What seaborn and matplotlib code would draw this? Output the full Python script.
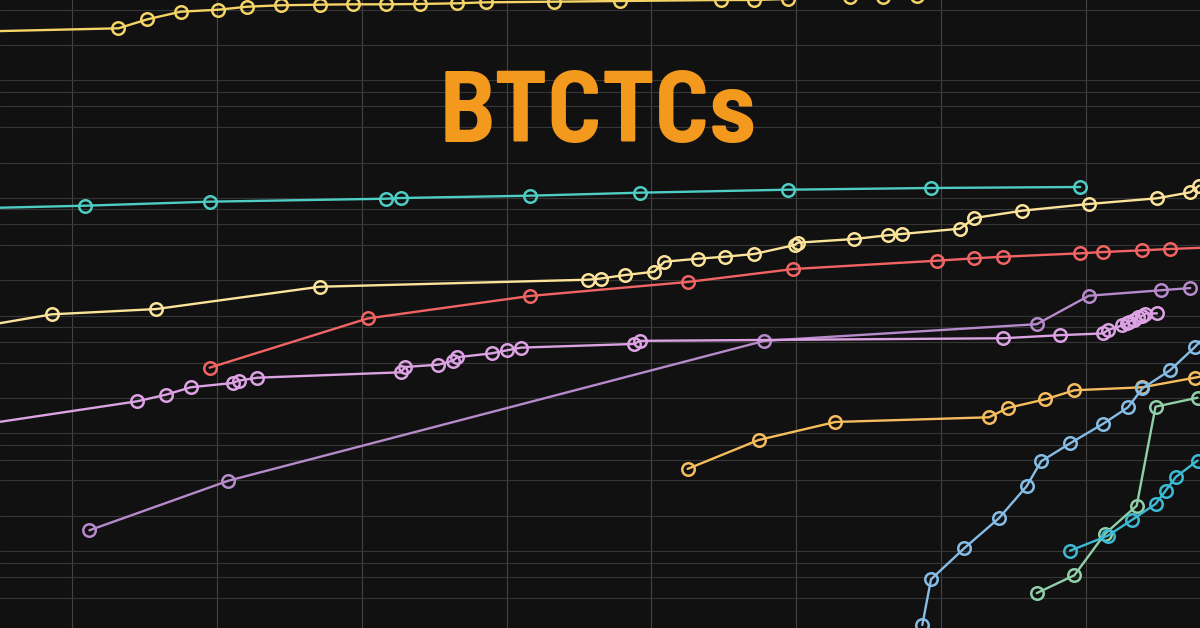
import numpy as np
import pandas as pd
import seaborn as sns
import matplotlib.pyplot as plt

# holdings over time (decimal year, BTC)
gold_x = [2017.30, 2018.32, 2018.52, 2018.75, 2019.01, 2019.21, 2019.44, 2019.71, 2019.94, 2020.17,
          2020.40, 2020.66, 2020.86, 2021.33, 2021.78, 2022.48, 2022.71, 2022.94, 2023.37, 2023.60,
          2023.83, 2024.03]
gold_y = [64700, 69200, 82500, 95800, 99600, 105600, 108600, 109900, 110700, 110700,
          111400, 112900, 115100, 116500, 118100, 120400, 120400, 122800, 127700, 127700,
          130200, 161500]

teal_x = [2017.30, 2018.09, 2018.95, 2020.17, 2020.27, 2021.16, 2021.92, 2022.94, 2023.93, 2024.96]
teal_y = [2042, 2153, 2329, 2469, 2503, 2618, 2777, 2944, 3044, 3104]

cream_x = [2017.30, 2017.86, 2018.58, 2019.71, 2021.56, 2021.65, 2021.82, 2022.02, 2022.09, 2022.32,
           2022.51, 2022.71, 2022.99, 2023.01, 2023.40, 2023.63, 2023.73, 2024.13, 2024.23, 2024.56,
           2025.02, 2025.49, 2025.72, 2025.78]
cream_y = [196, 257, 285, 441, 506, 518, 555, 592, 720, 763,
           794, 837, 998, 1044, 1122, 1207, 1238, 1373, 1692, 1953,
           2226, 2488, 2799, 3184]

red_x = [2018.95, 2020.04, 2021.16, 2022.25, 2022.98, 2023.97, 2024.23, 2024.43, 2024.96, 2025.12,
         2025.39, 2025.58, 2025.96]
red_y = [90.5, 237, 368, 484, 624, 734, 769, 794, 848, 870, 900, 923, 962]

pink_x = [2017.30, 2018.45, 2018.65, 2018.82, 2019.11, 2019.15, 2019.28, 2020.27, 2020.30, 2020.53,
          2020.63, 2020.66, 2020.90, 2021.00, 2021.10, 2021.88, 2021.92, 2024.43, 2024.82, 2025.12,
          2025.15, 2025.25, 2025.28, 2025.30, 2025.33, 2025.36, 2025.39, 2025.41, 2025.49]
pink_y = [28.8, 46.9, 53.4, 61.7, 67.1, 70.2, 74.4, 82.7, 91.8, 96.0,
          104, 111, 120, 127, 134, 144, 153, 161, 171, 177,
          189, 207, 215, 223, 232, 242, 251, 261, 262]

purple_x = [2018.12, 2019.08, 2022.78, 2024.66, 2025.02, 2025.52, 2025.72]
purple_y = [3.76, 9.92, 153, 212, 370, 412, 430]

orange_x = [2022.25, 2022.74, 2023.27, 2024.33, 2024.46, 2024.72, 2024.92, 2025.39, 2025.75, 2025.96]
orange_y = [12.5, 22.0, 31.3, 34.3, 41.2, 48.8, 58.2, 61.7, 74.4, 83.2]

blue_x = [2023.87, 2023.93, 2024.16, 2024.40, 2024.59, 2024.69, 2024.89, 2025.12, 2025.29, 2025.39,
          2025.58, 2025.75, 2025.89]
blue_y = [0.59, 1.44, 2.65, 4.78, 8.89, 14.5, 20.6, 30.3, 41.7, 60.5, 86.0, 135, 205]

green_x = [2024.66, 2024.92, 2025.13, 2025.35, 2025.48, 2025.77]
green_y = [1.10, 1.56, 3.50, 6.08, 42.2, 50.3]

cyan_x = [2024.89, 2025.15, 2025.32, 2025.48, 2025.55, 2025.62, 2025.77]
cyan_y = [2.52, 3.38, 4.63, 6.29, 8.16, 10.67, 14.7]

series = [
    (gold_x, gold_y, '#f4d466'),
    (teal_x, teal_y, '#4ecdc4'),
    (cream_x, cream_y, '#fbe39a'),
    (red_x, red_y, '#f26464'),
    (purple_x, purple_y, '#b68acb'),
    (pink_x, pink_y, '#dca2e4'),
    (orange_x, orange_y, '#f6bd5e'),
    (blue_x, blue_y, '#85bde6'),
    (green_x, green_y, '#90d0a8'),
    (cyan_x, cyan_y, '#3cbad4'),
]

grid_years = list(range(2018, 2026))
grid_vals = [m * 10.0 ** k for k in range(-1, 6) for m in (1, 1.5, 2, 2.5, 5)]

sns.set_style('dark')
bg = '#111111'
fig = plt.figure(figsize=(12, 6.28), dpi=100, facecolor=bg)
ax = fig.add_axes([0, 0, 1, 1])
ax.set_facecolor(bg)

for xs, ys, col in series:
    df = pd.DataFrame({'t': xs, 'btc': ys})
    sns.lineplot(data=df, x='t', y='btc', ax=ax, color=col, lw=1.7, estimator=None, sort=False,
                 marker='o', markersize=9, markerfacecolor='none', markeredgecolor=col,
                 markeredgewidth=1.8)

ax.set_yscale('log')
ax.set_xlim(2017.503, 2025.787)
ax.set_ylim(0.5559, 120430)
for g in grid_years:
    ax.axvline(g, color='#444444', lw=0.8, zorder=0)
for g in grid_vals:
    ax.axhline(g, color='#363636', lw=0.8, zorder=0)
ax.grid(False)
ax.set_xticks([])
ax.set_yticks([])
ax.minorticks_off()
ax.set_xlabel('')
ax.set_ylabel('')
for s in ax.spines.values():
    s.set_visible(False)

fig.text(0.498, 1 - 142 / 628, 'BTCTCs', ha='center', va='baseline', color='#f39a1e',
         fontsize=73, fontweight='bold',
         family=['Barlow Semi Condensed', 'Roboto Condensed', 'DejaVu Sans'])

fig.savefig('out.png', dpi=100, facecolor=bg)
